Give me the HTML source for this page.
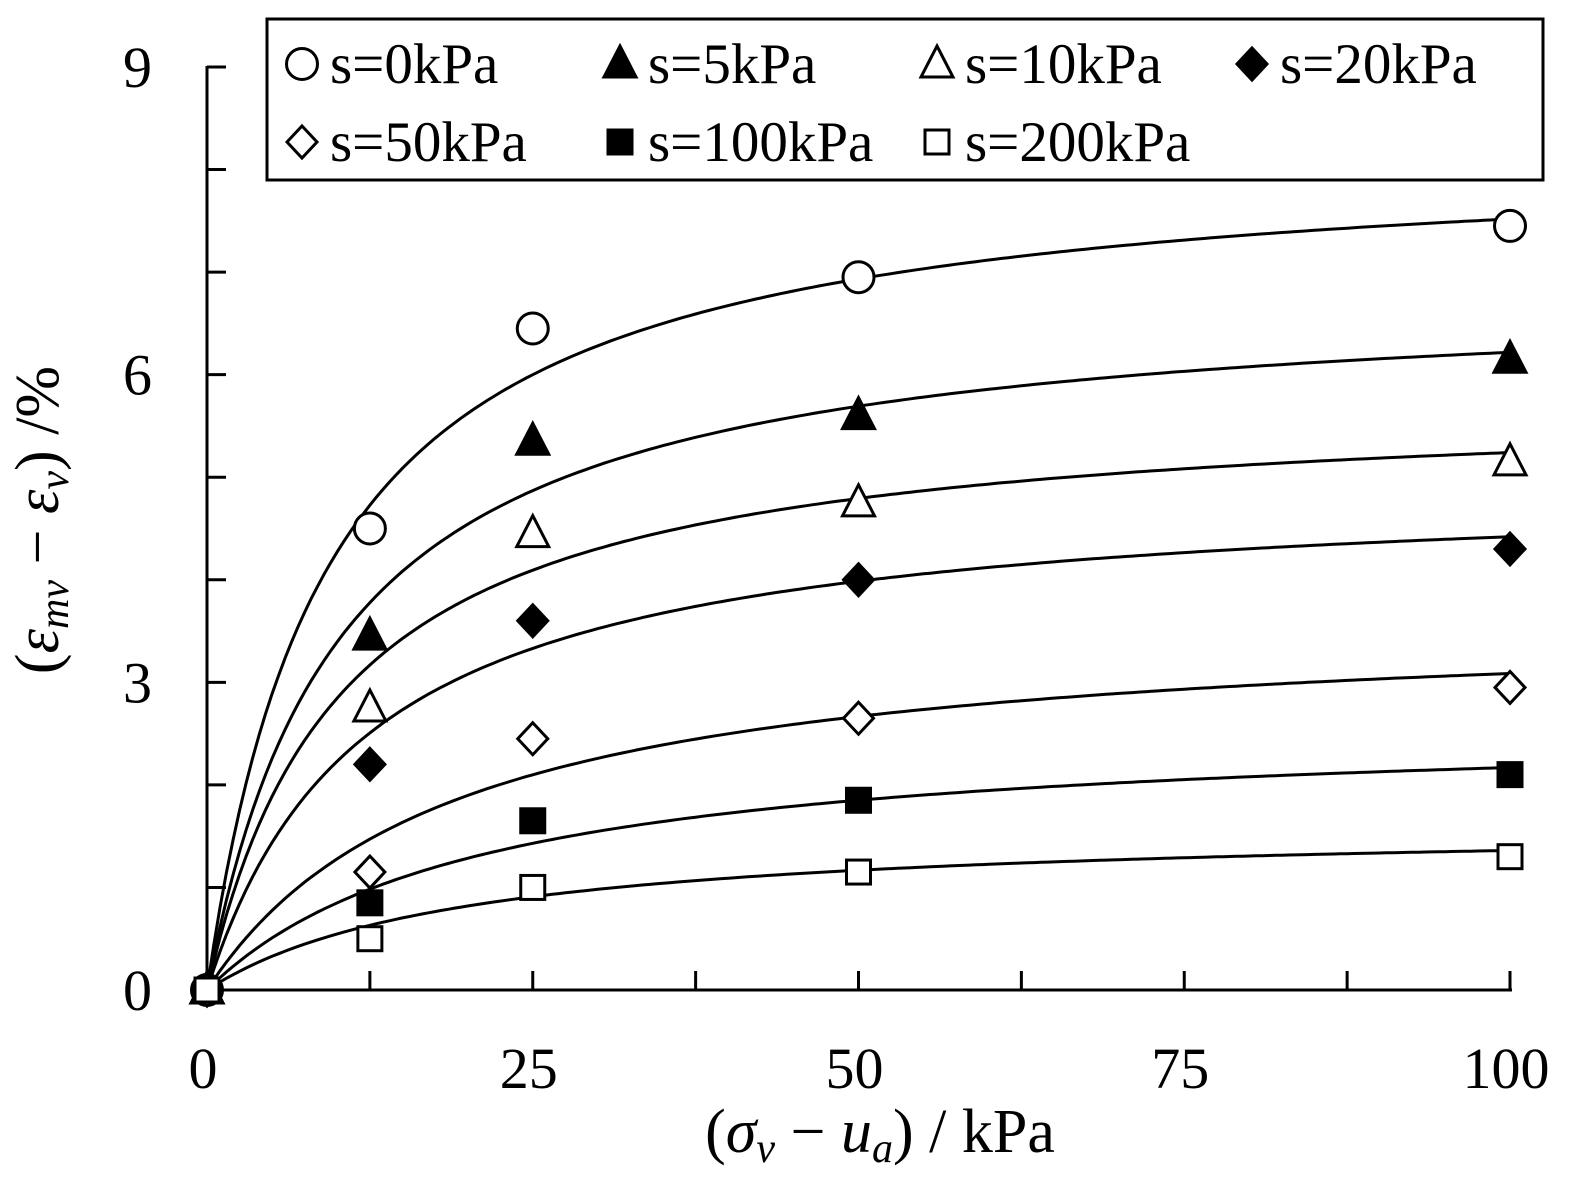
<!DOCTYPE html>
<html><head><meta charset="utf-8"><style>html,body{margin:0;padding:0;background:#fff}</style></head>
<body>
<svg xmlns="http://www.w3.org/2000/svg" width="1584" height="1199" viewBox="0 0 1584 1199" font-family="Liberation Serif, serif">
<rect width="1584" height="1199" fill="#fff"/>
<g id="plot"></g>
<text x="880" y="1152" font-size="62" text-anchor="middle">(<tspan font-style="italic">σ</tspan><tspan font-style="italic" font-size="42" dy="10">v</tspan><tspan dy="-10"> − </tspan><tspan font-style="italic">u</tspan><tspan font-style="italic" font-size="42" dy="10">a</tspan><tspan dy="-10">) / kPa</tspan></text>
<text x="0" y="0" font-size="62" text-anchor="middle" transform="translate(58,520) rotate(-90)">(<tspan font-style="italic">ε</tspan><tspan font-style="italic" font-size="42" dy="10">mv</tspan><tspan dy="-10"> − </tspan><tspan font-style="italic">ε</tspan><tspan font-style="italic" font-size="42" dy="10">v</tspan><tspan dy="-10">) /%</tspan></text>
<script>
const X=v=>207+v*13.03, Y=v=>990-v*102.56;
const ns="http://www.w3.org/2000/svg";
const g=document.getElementById('plot');
function el(t,a,txt){const e=document.createElementNS(ns,t);for(const k in a)e.setAttribute(k,a[k]);if(txt!==undefined)e.textContent=txt;g.appendChild(e);return e;}
el('line',{x1:207,y1:990,x2:1512,y2:990,stroke:'#000','stroke-width':3});
el('line',{x1:207,y1:990,x2:207,y2:66,stroke:'#000','stroke-width':3});
for(let i=0;i<=9;i++){el('line',{x1:207,y1:Y(i),x2:226,y2:Y(i),stroke:'#000','stroke-width':3});}
for(let i=1;i<=8;i++){const x=X(i*12.5);el('line',{x1:x,y1:990,x2:x,y2:971,stroke:'#000','stroke-width':3});}
[[0,'0'],[3,'3'],[6,'6'],[9,'9']].forEach(([v,t])=>el('text',{x:152,y:Y(v)+20,'font-size':58,'text-anchor':'end'},t));
[[0,'0'],[25,'25'],[50,'50'],[75,'75'],[100,'100']].forEach(([v,t])=>el('text',{x:X(v)-4,y:1088,'font-size':58,'text-anchor':'middle'},t));
const fits=[[8.21,9.21],[6.85,10.17],[5.78,10.3],[4.96,12.23],[3.66,18.6],[2.62,20.8],[1.63,19.8]];
fits.forEach(([a,b])=>{let d='';for(let x=0;x<=100;x+=0.5){d+=(x?'L':'M')+X(x).toFixed(1)+','+Y(a*x/(b+x)).toFixed(1);}el('path',{d,fill:'none',stroke:'#000','stroke-width':3});});
function mk(type,cx,cy){const f=type.fill?'#000':'#fff';const sw=3;
 if(type.s=='c')el('circle',{cx,cy,r:15.5,fill:f,stroke:'#000','stroke-width':sw});
 if(type.s=='t')el('polygon',{points:`${cx},${cy-18} ${cx+16},${cy+13} ${cx-16},${cy+13}`,fill:f,stroke:'#000','stroke-width':sw});
 if(type.s=='d')el('polygon',{points:`${cx},${cy-16} ${cx+15},${cy} ${cx},${cy+16} ${cx-15},${cy}`,fill:f,stroke:'#000','stroke-width':sw});
 if(type.s=='q')el('rect',{x:cx-12,y:cy-12,width:24,height:24,fill:f,stroke:'#000','stroke-width':sw});}
const types=[{s:'c'},{s:'t',fill:1},{s:'t'},{s:'d',fill:1},{s:'d'},{s:'q',fill:1},{s:'q'}];
const data=[[4.5,6.45,6.95,7.45],[3.45,5.35,5.6,6.15],[2.75,4.45,4.75,5.15],[2.2,3.6,4.0,4.3],[1.15,2.45,2.65,2.95],[0.85,1.65,1.85,2.1],[0.5,1.0,1.15,1.3]];
const xs=[12.5,25,50,100];
data.forEach((r,i)=>{mk(types[i],X(0),Y(0));r.forEach((v,j)=>mk(types[i],X(xs[j]),Y(v)));});
el('rect',{x:267,y:19,width:1276,height:161,fill:'#fff',stroke:'#000','stroke-width':3});
const leg=[['s=0kPa',0,302,64],['s=5kPa',1,620,64],['s=10kPa',2,937,64],['s=20kPa',3,1252,64],['s=50kPa',4,302,142],['s=100kPa',5,620,142],['s=200kPa',6,937,142]];
leg.forEach(([t,i,x,y])=>{mk(types[i],x,y);el('text',{x:x+28,y:y+19,'font-size':57},t);});
</script>
</svg>
</body></html>
